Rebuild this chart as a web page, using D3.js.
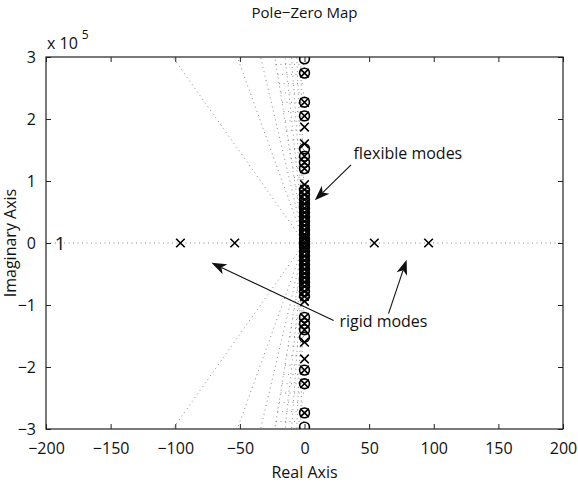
<!DOCTYPE html>
<html>
<head>
<meta charset="utf-8">
<script src="https://cdn.jsdelivr.net/npm/d3@7"></script>
<style>
  body { margin: 0; background: #fff; }
  text { font-family: "Open Sans", "DejaVu Sans", sans-serif; fill: #111; }
</style>
</head>
<body>
<svg id="svg" width="578" height="485"></svg>
<script>
'use strict';

// tick values
const xTicks = [-200, -150, -100, -50, 0, 50, 100, 150, 200];
const yTicks = [-3, -2, -1, 0, 1, 2, 3]; // x 10^5

// rigid body poles on the real axis
const rigidPoles = [-96, -54, 54, 96];

// flexible modes, imaginary parts (x 10^5), real part ~ 0
const flexPoles = [2.74, 2.27, 2.05, 1.87, 1.60, 1.40, 1.30, 1.20, 0.94, 0.86, 0.78, 0.70,
  0.63, 0.56, 0.49, 0.42, 0.35, 0.28, 0.21, 0.14, 0.07, 0.02,
  -0.02, -0.07, -0.14, -0.21, -0.28, -0.35, -0.42, -0.49, -0.56, -0.63, -0.70, -0.78,
  -0.86, -0.94, -1.20, -1.30, -1.40, -1.60, -1.87, -2.05, -2.27, -2.74];
const flexZeros = [2.97, 2.74, 2.27, 2.05, 1.52, 1.40, 1.30, 1.20, 0.86, 0.78, 0.70,
  0.63, 0.56, 0.49, 0.42, 0.35, 0.28, 0.21, 0.14, 0.07, 0.02,
  -0.02, -0.07, -0.14, -0.21, -0.28, -0.35, -0.42, -0.49, -0.56, -0.63, -0.70, -0.78,
  -0.86, -1.20, -1.30, -1.40, -1.52, -2.05, -2.27, -2.74, -2.97];

// damping grid: real value where each constant-damping line meets Im = +-3e5
const dampingEnds = [-102, -52, -34, -23, -15, -10, -6, -3];
// natural frequency arcs (x 10^5)
const wnLevels = [0.15, 0.30, 0.45, 0.60, 0.76, 0.91, 1.06, 1.21, 1.36, 1.51, 1.66,
  1.82, 1.97, 2.12, 2.27, 2.42, 2.57, 2.72, 2.88];
const arcLimit = -23;

const margin = { left: 46, right: 15, top: 57, bottom: 56 };
const W = 578, H = 485;

const svg = d3.select('#svg');
const x = d3.scaleLinear().domain([-200, 200]).range([margin.left, W - margin.right]);
const y = d3.scaleLinear().domain([-3, 3]).range([H - margin.bottom, margin.top]);
const fmt = d => (d < 0 ? '\u2212' + Math.abs(d) : String(d));

svg.append('defs').append('clipPath').attr('id', 'plotclip')
  .append('rect')
  .attr('x', x(-200)).attr('y', y(3))
  .attr('width', x(200) - x(-200)).attr('height', y(-3) - y(3));

const plot = svg.append('g').attr('clip-path', 'url(#plotclip)');
const grid = plot.append('g')
  .attr('fill', 'none')
  .attr('stroke', '#8a8a8a')
  .attr('stroke-width', 1)
  .attr('stroke-dasharray', '1,3.5');

// damping lines
grid.selectAll('.dmp-up').data(dampingEnds).join('line')
  .attr('x1', x(0)).attr('y1', y(0))
  .attr('x2', d => x(d)).attr('y2', y(3));
grid.selectAll('.dmp-dn').data(dampingEnds).join('line')
  .attr('class', 'dmp-dn')
  .attr('x1', x(0)).attr('y1', y(0))
  .attr('x2', d => x(d)).attr('y2', y(-3));

// wn arcs (look flat at this aspect ratio)
[1, -1].forEach(s => {
  grid.append('g').selectAll('line').data(wnLevels).join('line')
    .attr('x1', d => x(arcLimit * d / 3)).attr('y1', d => y(s * d))
    .attr('x2', x(0)).attr('y2', d => y(s * d));
});

// real axis line
grid.append('line')
  .attr('x1', x(-200)).attr('x2', x(200))
  .attr('y1', y(0)).attr('y2', y(0));

// markers
const cross = (g, px, py) => {
  const r = 4.3;
  g.append('path')
    .attr('d', `M${px - r},${py - r}L${px + r},${py + r}M${px - r},${py + r}L${px + r},${py - r}`);
};
const markers = plot.append('g')
  .attr('fill', 'none').attr('stroke', '#000').attr('stroke-width', 1.6);

markers.selectAll('circle').data(flexZeros).join('circle')
  .attr('cx', x(0)).attr('cy', d => y(d)).attr('r', 4.9);
flexPoles.forEach(d => cross(markers, x(0), y(d)));
rigidPoles.forEach(d => cross(markers, x(d), y(0)));

plot.append('text')
  .attr('x', x(-189)).attr('y', y(0))
  .attr('dy', '0.36em').attr('text-anchor', 'middle')
  .attr('font-size', 19)
  .text('1');

// axes, ticks inward on all four sides
const axisG = svg.append('g');
const styleAxis = g => {
  g.select('.domain').remove();
  g.selectAll('line').attr('stroke', '#222');
  g.selectAll('text').attr('font-size', 16).attr('fill', '#111');
};
axisG.append('g').attr('transform', `translate(0,${y(-3)})`)
  .call(d3.axisBottom(x).tickValues(xTicks).tickFormat(fmt).tickSize(-5).tickPadding(14))
  .call(styleAxis);
axisG.append('g').attr('transform', `translate(0,${y(3)})`)
  .call(d3.axisTop(x).tickValues(xTicks).tickFormat('').tickSize(-5))
  .call(styleAxis);
axisG.append('g').attr('transform', `translate(${x(-200)},0)`)
  .call(d3.axisLeft(y).tickValues(yTicks).tickFormat(fmt).tickSize(-5).tickPadding(10))
  .call(styleAxis);
axisG.append('g').attr('transform', `translate(${x(200)},0)`)
  .call(d3.axisRight(y).tickValues(yTicks).tickFormat('').tickSize(-5))
  .call(styleAxis);

svg.append('rect')
  .attr('x', x(-200)).attr('y', y(3))
  .attr('width', x(200) - x(-200)).attr('height', y(-3) - y(3))
  .attr('fill', 'none').attr('stroke', '#222').attr('stroke-width', 1.2);

// exponent label
const expo = svg.append('text').attr('x', 47).attr('y', 49).attr('font-size', 16);
expo.append('tspan').text('x 10');
expo.append('tspan').attr('font-size', 12).attr('dx', 4).attr('dy', -10).text('5');

// titles
svg.append('text')
  .attr('x', x(0)).attr('y', 18).attr('text-anchor', 'middle')
  .attr('font-size', 15).text('Pole\u2212Zero Map');
svg.append('text')
  .attr('x', x(0)).attr('y', 478).attr('text-anchor', 'middle')
  .attr('font-size', 16).text('Real Axis');
svg.append('text')
  .attr('transform', `translate(16,${y(0)}) rotate(-90)`)
  .attr('text-anchor', 'middle')
  .attr('font-size', 16).text('Imaginary Axis');

// annotations (data coordinates)
const notes = [
  { label: 'flexible modes', tx: 38, ty: 1.36 },
  { label: 'rigid modes', tx: 27, ty: -1.36 }
];
const arrows = [
  { from: [36, 1.26], to: [8, 0.69] },
  { from: [22.5, -1.25], to: [-72, -0.32] },
  { from: [65, -1.14], to: [79, -0.27] }
];

svg.selectAll('.note').data(notes).join('text')
  .attr('class', 'note')
  .attr('x', d => x(d.tx)).attr('y', d => y(d.ty))
  .attr('font-size', 16)
  .text(d => d.label);

const arrowG = svg.append('g');
arrows.forEach(a => {
  const x1 = x(a.from[0]), y1 = y(a.from[1]);
  const x2 = x(a.to[0]), y2 = y(a.to[1]);
  const ang = Math.atan2(y2 - y1, x2 - x1);
  const L = 15, Wd = 5.5, notch = 11;
  const ux = Math.cos(ang), uy = Math.sin(ang);
  const px = -uy, py = ux;
  const bx = x2 - ux * L, by = y2 - uy * L;
  const nx = x2 - ux * notch, ny = y2 - uy * notch;
  arrowG.append('line')
    .attr('x1', x1).attr('y1', y1).attr('x2', nx).attr('y2', ny)
    .attr('stroke', '#111').attr('stroke-width', 1.1);
  arrowG.append('path')
    .attr('d', `M${x2},${y2}L${bx + px * Wd},${by + py * Wd}L${nx},${ny}L${bx - px * Wd},${by - py * Wd}Z`)
    .attr('fill', '#111');
});
</script>
</body>
</html>
